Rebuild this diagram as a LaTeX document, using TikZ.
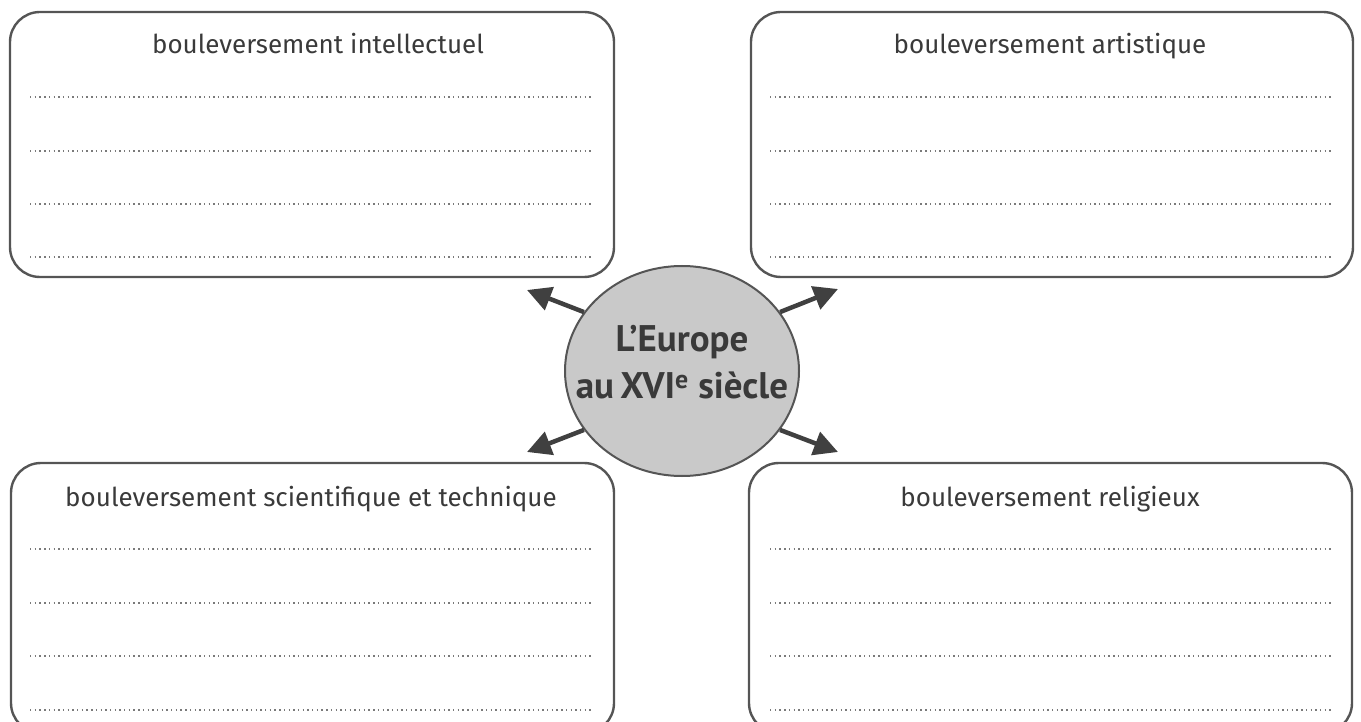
\documentclass[tikz,border=0pt]{standalone}
\usepackage{fontspec}
\setmainfont{Fira Sans}
\newfontfamily\centerfont{PT Sans}
\usetikzlibrary{arrows.meta,shapes.geometric}
\definecolor{edge}{HTML}{555555}
\definecolor{ink}{HTML}{3A3A3A}
\definecolor{dotc}{HTML}{7A7A7A}
\definecolor{discfill}{HTML}{C9C9C9}
\definecolor{arrowc}{HTML}{404040}
\tikzset{
  themebox/.style={draw=edge, line width=2.4pt, rounded corners=30pt},
  titletext/.style={text=ink, font=\fontsize{26}{28}\selectfont, inner sep=0pt, anchor=base},
  writeline/.style={draw=dotc, line width=1.9pt, dash pattern=on 1.4pt off 3.3pt},
  disc/.style={ellipse, draw=edge, fill=discfill, line width=2pt, minimum width=234pt, minimum height=210pt, inner sep=0pt},
  centretext/.style={text=ink, font=\centerfont\bfseries\fontsize{37}{44}\selectfont, inner sep=0pt, anchor=base},
  spoke/.style={draw=arrowc, line width=4.5pt, -{Triangle[length=24pt, width=24pt]}}
}
\begin{document}
\begin{tikzpicture}[x=1pt, y=-1pt]
\useasboundingbox (0,0) rectangle (1361,722);
\begin{scope}
\clip (0,0) rectangle (1361,722);
\draw[themebox] (10,12) rectangle (614,277);
\draw[themebox] (751,12) rectangle (1353,277);
\draw[themebox] (11,463) rectangle (614,733);
\draw[themebox] (749,463) rectangle (1352,733);
\end{scope}
% titles
\node[titletext] (tlt) at (318,54) {bouleversement intellectuel};
\node[titletext] (trt) at (1050,54) {bouleversement artistique};
\node[titletext] (blt) at (311,506) {bouleversement scientifique et technique};
\node[titletext] (brt) at (1050,506) {bouleversement religieux};
% writing lines
\foreach \yy in {97,151,204,257}{
  \draw[writeline] (30,\yy) -- (591,\yy);
  \draw[writeline] (770,\yy) -- (1331,\yy);
}
\foreach \yy in {549,603,656,710}{
  \draw[writeline] (30,\yy) -- (591,\yy);
  \draw[writeline] (770,\yy) -- (1331,\yy);
}
% centre
\node[disc] (c) at (682,371) {};
\node[centretext] (c1) at (682,351) {L’Europe};
\node[centretext] (c2) at (682,398) {au\,XVI\textsuperscript{e} siècle};
% arrows
\coordinate (atl) at (527,290);
\coordinate (atr) at (838,289);
\coordinate (abl) at (527,452);
\coordinate (abr) at (838,452);
\draw[spoke] (c.149) -- (atl);
\draw[spoke] (c.31) -- (atr);
\draw[spoke] (c.211) -- (abl);
\draw[spoke] (c.329) -- (abr);
\end{tikzpicture}
\end{document}
